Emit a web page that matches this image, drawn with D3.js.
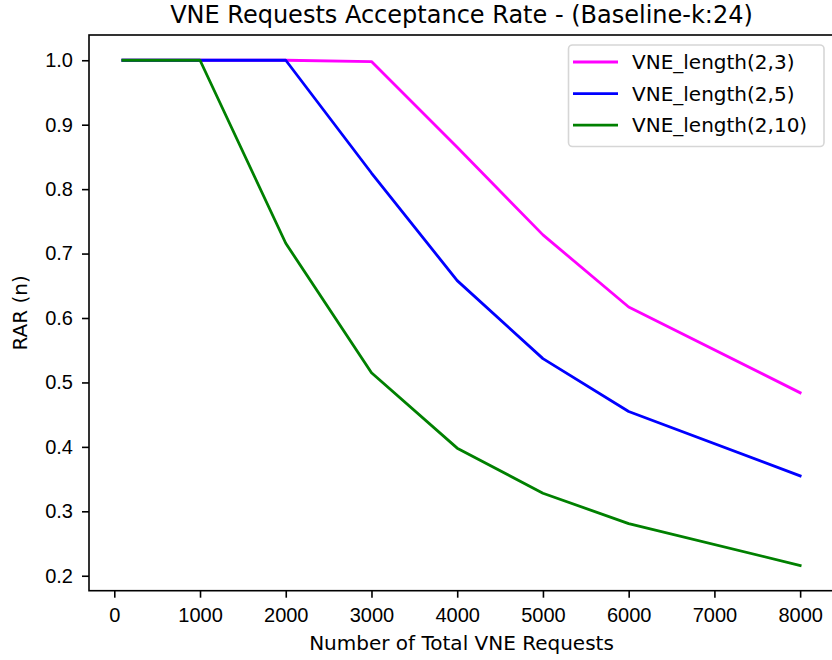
<!DOCTYPE html>
<html>
<head>
<meta charset="utf-8">
<script src="https://cdn.jsdelivr.net/npm/d3@7"></script>
<style>
  body { margin: 0; background: #fff; }
  svg { display: block; font-family: "DejaVu Sans", sans-serif; }
  .axis text { font-size: 20px; fill: #000; }
  .axis path, .axis line { stroke: #000; stroke-width: 1.6; }
</style>
</head>
<body>
<svg id="chart" width="832" height="660"></svg>
<script>
const requests = [100, 1000, 2000, 3000, 4000, 5000, 6000, 8000];
const rarLen3 = [1.0, 1.0, 1.0, 0.998, 0.865, 0.729, 0.617, 0.484];
const rarLen5 = [1.0, 1.0, 1.0, 0.825, 0.658, 0.537, 0.455, 0.355];
const rarLen10 = [1.0, 1.0, 0.716, 0.515, 0.398, 0.328, 0.281, 0.216];
const seriesNames = ["VNE_length(2,3)", "VNE_length(2,5)", "VNE_length(2,10)"];
const seriesColors = ["#ff00ff", "#0000ff", "#008000"];
const xTicks = [0, 1000, 2000, 3000, 4000, 5000, 6000, 7000, 8000];
const yTicks = [0.2, 0.3, 0.4, 0.5, 0.6, 0.7, 0.8, 0.9, 1.0];

const series = [rarLen3, rarLen5, rarLen10].map((vals, i) => ({
  name: seriesNames[i],
  color: seriesColors[i],
  points: vals.map((v, j) => ({ x: requests[j], y: v }))
}));

const svg = d3.select("#chart");
const plot = { left: 89, right: 834, top: 35, bottom: 590.7 };

// matplotlib-style 5% margins around the data
function padded(lo, hi) {
  const m = (hi - lo) * 0.05;
  return [lo - m, hi + m];
}
const allY = [].concat(rarLen3, rarLen5, rarLen10);
const x = d3.scaleLinear()
  .domain(padded(d3.min(requests), d3.max(requests)))
  .range([plot.left, plot.right]);
const y = d3.scaleLinear()
  .domain(padded(d3.min(allY), d3.max(allY)))
  .range([plot.bottom, plot.top]);

// frame
svg.append("rect")
  .attr("x", plot.left).attr("y", plot.top)
  .attr("width", plot.right - plot.left).attr("height", plot.bottom - plot.top)
  .attr("fill", "none").attr("stroke", "#000").attr("stroke-width", 1.6);

svg.append("g")
  .attr("class", "axis")
  .attr("transform", `translate(0,${plot.bottom})`)
  .call(d3.axisBottom(x).tickValues(xTicks).tickSize(7).tickPadding(10).tickSizeOuter(0).tickFormat(d3.format("d")))
  .call(g => g.select(".domain").remove());

svg.append("g")
  .attr("class", "axis")
  .attr("transform", `translate(${plot.left},0)`)
  .call(d3.axisLeft(y).tickValues(yTicks).tickSize(7).tickPadding(9).tickSizeOuter(0).tickFormat(d3.format(".1f")))
  .call(g => g.select(".domain").remove());

const line = d3.line().x(d => x(d.x)).y(d => y(d.y));

svg.append("g")
  .selectAll("path")
  .data(series)
  .join("path")
  .attr("fill", "none")
  .attr("stroke", d => d.color)
  .attr("stroke-width", 2.8)
  .attr("stroke-linejoin", "round")
  .attr("stroke-linecap", "square")
  .attr("d", d => line(d.points));

// titles
svg.append("text")
  .attr("x", (plot.left + plot.right) / 2)
  .attr("y", 23)
  .attr("text-anchor", "middle")
  .attr("font-size", 24)
  .text("VNE Requests Acceptance Rate - (Baseline-k:24)");

svg.append("text")
  .attr("x", (plot.left + plot.right) / 2)
  .attr("y", 650)
  .attr("text-anchor", "middle")
  .attr("font-size", 20)
  .text("Number of Total VNE Requests");

svg.append("text")
  .attr("transform", `translate(27,${(plot.top + plot.bottom) / 2}) rotate(-90)`)
  .attr("text-anchor", "middle")
  .attr("font-size", 20)
  .text("RAR (n)");

// legend
const legend = svg.append("g");
legend.append("rect")
  .attr("x", 568.5).attr("y", 45)
  .attr("width", 255.5).attr("height", 101.5)
  .attr("rx", 4)
  .attr("fill", "#fff").attr("fill-opacity", 0.8)
  .attr("stroke", "#d6d6d6").attr("stroke-width", 1.6);

const rows = legend.selectAll("g.row")
  .data(series)
  .join("g")
  .attr("class", "row")
  .attr("transform", (d, i) => `translate(0,${62 + i * 31.6})`);
rows.append("line")
  .attr("x1", 573).attr("x2", 618)
  .attr("stroke", d => d.color).attr("stroke-width", 2.8);
rows.append("text")
  .attr("x", 632)
  .attr("dy", "0.36em")
  .attr("font-size", 20)
  .text(d => d.name);
</script>
</body>
</html>
